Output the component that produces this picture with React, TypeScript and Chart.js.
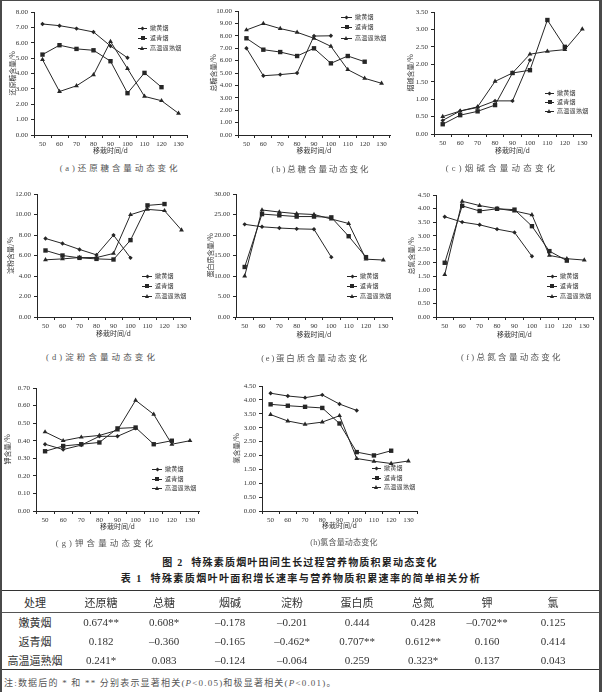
import React, { useEffect, useRef } from "react";
import { Chart, registerables } from "chart.js";
Chart.register(...registerables);

// ---------- data ----------
const days = ["50", "60", "70", "80", "90", "100", "110", "120", "130"];
const treatments = ["嫩黄烟", "返青烟", "高温逼熟烟"];

// (a) 还原糖
const reducingSugarNH = [7.22, 7.11, 6.92, 6.7, 5.79, 5.02];
const reducingSugarFQ = [5.23, 5.84, 5.6, 5.51, 4.8, 2.72, 4.04, 3.11];
const reducingSugarGW = [4.9, 2.83, 3.2, 3.91, 6.08, 4.32, 2.51, 2.23, 1.41];
// (b) 总糖
const totalSugarNH = [7.0, 4.78, 4.87, 5.0, 7.98, 8.0];
const totalSugarFQ = [7.8, 6.88, 6.69, 6.37, 6.99, 5.78, 6.37, 5.91];
const totalSugarGW = [8.47, 8.98, 8.58, 8.28, 7.8, 7.15, 5.27, 4.57, 4.17];
// (c) 烟碱
const nicotineNH = [0.39, 0.66, 0.76, 0.95, 0.95, 2.12];
const nicotineFQ = [0.28, 0.54, 0.65, 0.83, 1.75, 1.83, 3.27, 2.5];
const nicotineGW = [0.5, 0.66, 0.78, 1.51, 1.75, 2.29, 2.37, 2.42, 3.01];
// (d) 淀粉
const starchNH = [7.66, 7.17, 6.59, 6.06, 7.99, 5.77];
const starchFQ = [6.49, 6.0, 5.77, 5.67, 5.61, 7.5, 10.89, 11.02];
const starchGW = [5.58, 5.67, 5.8, 5.8, 6.2, 9.98, 10.5, 10.37, 8.48];
// (e) 蛋白质
const proteinNH = [22.6, 22.0, 21.7, 21.5, 21.4, 14.6];
const proteinFQ = [12.2, 25.1, 24.8, 24.5, 24.5, 24.3, 19.7, 14.6];
const proteinGW = [10.0, 26.1, 25.6, 25.2, 25.0, 23.9, 22.8, 14.1, 13.9];
// (f) 总氮
const nitrogenNH = [3.7, 3.5, 3.4, 3.24, 3.12, 2.24];
const nitrogenFQ = [2.0, 4.1, 3.91, 3.99, 3.96, 3.35, 2.43, 2.08];
const nitrogenGW = [1.56, 4.27, 4.11, 4.0, 3.91, 3.77, 2.27, 2.15, 2.1];
// (g) 钾
const potassiumNH = [0.38, 0.35, 0.375, 0.425, 0.425, 0.47];
const potassiumFQ = [0.34, 0.37, 0.38, 0.39, 0.47, 0.475, 0.38, 0.4];
const potassiumGW = [0.45, 0.4, 0.42, 0.43, 0.46, 0.63, 0.55, 0.38, 0.4];
// (h) 氯
const chlorineNH = [4.24, 4.14, 4.08, 4.18, 3.85, 3.62];
const chlorineFQ = [3.84, 3.79, 3.75, 3.71, 3.15, 2.12, 2.0, 2.17];
const chlorineGW = [3.47, 3.24, 3.12, 3.2, 3.43, 1.89, 1.79, 1.71, 1.8];

// table 1
const tableHeaders = ["处理", "还原糖", "总糖", "烟碱", "淀粉", "蛋白质", "总氮", "钾", "氯"];
const rowNH = ["0.674**", "0.608*", "–0.178", "–0.201", "0.444", "0.428", "–0.702**", "0.125"];
const rowFQ = ["0.182", "–0.360", "–0.165", "–0.462*", "0.707**", "0.612**", "0.160", "0.414"];
const rowGW = ["0.241*", "0.083", "–0.124", "–0.064", "0.259", "0.323*", "0.137", "0.043"];

// ---------- styles ----------
const LINE = "#262626";
const TXT = "#333";
const SERIF = '"Liberation Serif", "Times New Roman", serif';
const CJK = '"Noto Sans CJK SC", "Liberation Serif", sans-serif';
const MIX = '"Liberation Serif", "Noto Sans CJK SC", serif';
const pointStyles = ["rectRot", "rect", "triangle"];
const pointRadii = [2.2, 3.1, 2.8];
const markerKinds = ["diamond", "square", "triangle"];

type Box = { x0: number; x1: number; y0: number; y1: number; yt: number; xt: number };
type PanelSpec = {
  yTitle: string;
  caption: string;
  yMax: number;
  step: number;
  series: number[][];
  box: Box;
  legend: { lx0: number; lx1: number; ys: number[] };
  cap: { cx: number; cy: number; fs: number; ls: number };
};

const panels: PanelSpec[] = [
  {
    yTitle: "还原糖含量/%", caption: "(a)还原糖含量动态变化", yMax: 8, step: 1,
    series: [reducingSugarNH, reducingSugarFQ, reducingSugarGW],
    box: { x0: 34, x1: 187, y0: 12, y1: 135, yt: 12, xt: 151 },
    legend: { lx0: 138, lx1: 147, ys: [28, 38, 48] },
    cap: { cx: 120, cy: 168, fs: 8.5, ls: 2.9 },
  },
  {
    yTitle: "总糖含量/%", caption: "(b)总糖含量动态变化", yMax: 10, step: 1,
    series: [totalSugarNH, totalSugarFQ, totalSugarGW],
    box: { x0: 238, x1: 390, y0: 11, y1: 135, yt: 213, xt: 151 },
    legend: { lx0: 341, lx1: 352, ys: [17, 27, 38] },
    cap: { cx: 321, cy: 169, fs: 8.5, ls: 1.9 },
  },
  {
    yTitle: "烟碱含量/%", caption: "(c)烟碱含量动态变化", yMax: 3.5, step: 0.5,
    series: [nicotineNH, nicotineFQ, nicotineGW],
    box: { x0: 434, x1: 591, y0: 12, y1: 134, yt: 410, xt: 151 },
    legend: { lx0: 545, lx1: 554, ys: [93, 102, 111] },
    cap: { cx: 502, cy: 168, fs: 8.5, ls: 3.2 },
  },
  {
    yTitle: "淀粉含量/%", caption: "(d)淀粉含量动态变化", yMax: 12, step: 2,
    series: [starchNH, starchFQ, starchGW],
    box: { x0: 37, x1: 190, y0: 194, y1: 317, yt: 10, xt: 334 },
    legend: { lx0: 142, lx1: 152, ys: [276, 286, 296] },
    cap: { cx: 102, cy: 357, fs: 8.5, ls: 3.1 },
  },
  {
    yTitle: "蛋白质含量/%", caption: "(e)蛋白质含量动态变化", yMax: 30, step: 5,
    series: [proteinNH, proteinFQ, proteinGW],
    box: { x0: 236, x1: 392, y0: 194, y1: 317, yt: 210, xt: 335 },
    legend: { lx0: 347, lx1: 357, ys: [276, 286, 296] },
    cap: { cx: 315, cy: 358, fs: 8.5, ls: 1.8 },
  },
  {
    yTitle: "总氮含量/%", caption: "(f)总氮含量动态变化", yMax: 4.5, step: 0.5,
    series: [nitrogenNH, nitrogenFQ, nitrogenGW],
    box: { x0: 436, x1: 593, y0: 195, y1: 317, yt: 411, xt: 335 },
    legend: { lx0: 547, lx1: 557, ys: [276, 286, 296] },
    cap: { cx: 512, cy: 357, fs: 8.5, ls: 2.3 },
  },
  {
    yTitle: "钾含量/%", caption: "(g)钾含量动态变化", yMax: 0.7, step: 0.1,
    series: [potassiumNH, potassiumFQ, potassiumGW],
    box: { x0: 36, x1: 199, y0: 388, y1: 511, yt: 7, xt: 527 },
    legend: { lx0: 152, lx1: 162, ys: [469, 479, 488] },
    cap: { cx: 106, cy: 543, fs: 8.5, ls: 3.1 },
  },
  {
    yTitle: "氯含量/%", caption: "(h)氯含量动态变化", yMax: 4.5, step: 0.5,
    series: [chlorineNH, chlorineFQ, chlorineGW],
    box: { x0: 262, x1: 417, y0: 386, y1: 511, yt: 236, xt: 526 },
    legend: { lx0: 372, lx1: 381, ys: [468, 478, 487] },
    cap: { cx: 344, cy: 543, fs: 8, ls: 0.2 },
  },
];

const AX_FONT = 7;
const LH = AX_FONT * 1.2;

function Marker({ kind, cx, cy }: { kind: string; cx: number; cy: number }) {
  if (kind === "diamond") {
    return (
      <div style={{ position: "absolute", left: cx - 1.5, top: cy - 1.5, width: 3, height: 3, background: LINE, transform: "rotate(45deg)" }} />
    );
  }
  if (kind === "square") {
    return <div style={{ position: "absolute", left: cx - 2, top: cy - 2, width: 4, height: 4, background: LINE }} />;
  }
  return (
    <div
      style={{
        position: "absolute", left: cx - 2.5, top: cy - 2.5, width: 0, height: 0,
        borderLeft: "2.5px solid transparent", borderRight: "2.5px solid transparent", borderBottom: `4px solid ${LINE}`,
      }}
    />
  );
}

function Panel({ p }: { p: PanelSpec }) {
  const ref = useRef<HTMLCanvasElement>(null);
  const b = p.box;
  const left = Math.round(b.yt - LH / 2);
  const top = Math.max(0, Math.round(b.y0 - 8));
  const right = Math.round(b.x1 + 5);
  const bottom = Math.round(b.xt + LH / 2);
  const w = right - left;
  const h = bottom - top;
  const yw = b.x0 - left;
  const xh = bottom - b.y1;

  useEffect(() => {
    const chart = new Chart(ref.current as HTMLCanvasElement, {
      type: "line",
      data: {
        labels: days,
        datasets: p.series.map((d, i) => ({
          label: treatments[i],
          data: d,
          borderColor: LINE,
          backgroundColor: LINE,
          pointBackgroundColor: LINE,
          pointBorderColor: LINE,
          borderWidth: 1,
          pointBorderWidth: 0,
          pointStyle: pointStyles[i] as any,
          pointRadius: pointRadii[i],
          tension: 0,
          fill: false,
        })),
      },
      options: {
        animation: false,
        responsive: false,
        devicePixelRatio: 1,
        events: [],
        layout: { padding: { left: 0, top: b.y0 - top, right: right - b.x1, bottom: 0 } },
        plugins: { legend: { display: false }, tooltip: { enabled: false }, title: { display: false } },
        scales: {
          x: {
            type: "category",
            offset: true,
            grid: { display: true, offset: true, drawOnChartArea: false, drawTicks: true, tickLength: 3, color: LINE, lineWidth: 1 },
            border: { display: true, color: LINE, width: 1 },
            ticks: { font: { family: SERIF, size: AX_FONT }, color: TXT, padding: 2, maxRotation: 0, autoSkip: false },
            title: { display: true, text: "移栽时间/d", font: { family: CJK, size: AX_FONT }, color: TXT, padding: 0 },
            afterFit: (s: any) => { s.height = xh; },
          },
          y: {
            type: "linear",
            min: 0,
            max: p.yMax,
            grid: { display: true, drawOnChartArea: false, drawTicks: true, tickLength: 3, color: LINE, lineWidth: 1 },
            border: { display: true, color: LINE, width: 1 },
            ticks: {
              stepSize: p.step,
              font: { family: SERIF, size: AX_FONT },
              color: TXT,
              padding: 3,
              callback: (v: any) => Number(v).toFixed(2),
            },
            title: { display: true, text: p.yTitle, font: { family: CJK, size: AX_FONT }, color: TXT, padding: 0 },
            afterFit: (s: any) => { s.width = yw; },
          },
        },
      } as any,
    });
    return () => chart.destroy();
  }, []);

  return (
    <>
      <canvas
        ref={ref}
        width={w}
        height={h}
        style={{ position: "absolute", left, top, width: w, height: h, display: "block" }}
      />
      {treatments.map((name, i) => {
        const y = p.legend.ys[i];
        return (
          <React.Fragment key={name}>
            <div style={{ position: "absolute", left: p.legend.lx0, top: y - 0.5, width: p.legend.lx1 - p.legend.lx0, height: 1, background: LINE }} />
            <Marker kind={markerKinds[i]} cx={(p.legend.lx0 + p.legend.lx1) / 2} cy={y} />
            <div
              style={{
                position: "absolute", left: p.legend.lx1 + 3, top: y - 4, height: 8, lineHeight: "8px",
                fontSize: 6, fontFamily: CJK, color: TXT, whiteSpace: "nowrap", letterSpacing: 0.3,
              }}
            >
              {name}
            </div>
          </React.Fragment>
        );
      })}
      <div
        style={{
          position: "absolute", left: p.cap.cx, top: p.cap.cy, transform: "translate(-50%, -50%)",
          fontSize: p.cap.fs, lineHeight: 1, letterSpacing: p.cap.ls, fontFamily: MIX, color: "#555", whiteSpace: "nowrap",
        }}
      >
        {p.caption}
      </div>
    </>
  );
}

const colX = [35, 101, 164, 230, 292, 357, 423, 487, 553];
const rowY = [622, 641, 660];

function Cell({ x, y, text, font }: { x: number; y: number; text: string; font: string }) {
  return (
    <div
      style={{
        position: "absolute", left: x, top: y, transform: "translate(-50%, -50%)", whiteSpace: "nowrap",
        fontSize: 11, lineHeight: 1, fontFamily: font, color: TXT,
      }}
    >
      {text}
    </div>
  );
}

export default function App() {
  const rows = [rowNH, rowFQ, rowGW];
  return (
    <div style={{ position: "absolute", left: 0, top: 0, width: 602, height: 692, background: "#fff", overflow: "hidden" }}>
      {panels.map((p, i) => (
        <Panel key={i} p={p} />
      ))}

      <div
        style={{
          position: "absolute", left: 300, top: 563, transform: "translate(-50%, -50%)", whiteSpace: "nowrap",
          fontSize: 10, lineHeight: 1, fontWeight: 700, letterSpacing: 1.2, fontFamily: MIX, color: "#222",
        }}
      >
        图 2<span style={{ display: "inline-block", width: 8 }} />特殊素质烟叶田间生长过程营养物质积累动态变化
      </div>
      <div
        style={{
          position: "absolute", left: 301, top: 579, transform: "translate(-50%, -50%)", whiteSpace: "nowrap",
          fontSize: 10, lineHeight: 1, fontWeight: 700, letterSpacing: 1.4, fontFamily: MIX, color: "#222",
        }}
      >
        表 1<span style={{ display: "inline-block", width: 8 }} />特殊素质烟叶叶面积增长速率与营养物质积累速率的简单相关分析
      </div>

      <div style={{ position: "absolute", left: 2, top: 589.5, width: 597, height: 1.5, background: "#333" }} />
      <div style={{ position: "absolute", left: 2, top: 612, width: 597, height: 1, background: "#555" }} />
      <div style={{ position: "absolute", left: 2, top: 668.5, width: 597, height: 1.5, background: "#333" }} />

      {tableHeaders.map((hd, j) => (
        <Cell key={"h" + j} x={colX[j]} y={602} text={hd} font={CJK} />
      ))}
      {rows.map((r, i) => (
        <React.Fragment key={"r" + i}>
          <Cell x={colX[0]} y={rowY[i]} text={treatments[i]} font={CJK} />
          {r.map((v, j) => (
            <Cell key={j} x={colX[j + 1]} y={rowY[i]} text={v} font={SERIF} />
          ))}
        </React.Fragment>
      ))}

      <div
        style={{
          position: "absolute", left: 4, top: 683, transform: "translateY(-50%)", whiteSpace: "nowrap",
          fontSize: 9, lineHeight: 1, letterSpacing: 1.2, fontFamily: MIX, color: "#555",
        }}
      >
        注:数据后的 * 和 ** 分别表示显著相关(<i>P</i>&lt;0.05)和极显著相关(<i>P</i>&lt;0.01)。
      </div>

      <div
        style={{
          position: "absolute", left: 0, top: 0, width: 602, height: 692, boxSizing: "border-box",
          borderLeft: "2px solid #4a4a4a", borderTop: "1px solid #4a4a4a", borderRight: "3px solid #4a4a4a",
          pointerEvents: "none",
        }}
      />
    </div>
  );
}
